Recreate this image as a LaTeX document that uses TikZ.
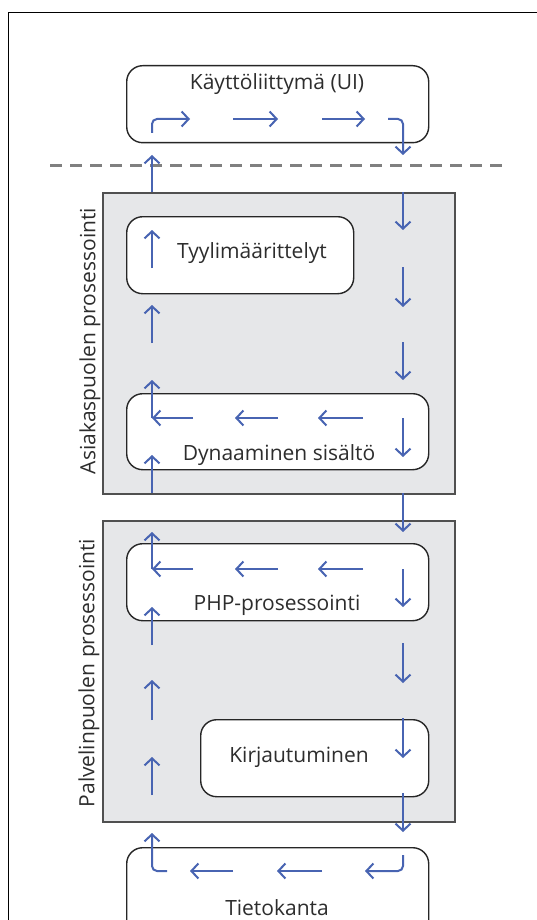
\documentclass[tikz,border=0pt]{standalone}
\usepackage{fontspec}
\setmainfont{Open Sans}
\usetikzlibrary{arrows.meta}
\definecolor{flowblue}{RGB}{72,100,178}
\definecolor{zonefill}{RGB}{230,231,233}
\definecolor{zoneline}{RGB}{80,80,80}
\definecolor{textgray}{RGB}{45,45,45}
\tikzset{
  frame/.style={draw=black, line width=1.5pt},
  zone/.style={draw=zoneline, fill=zonefill, line width=2pt, anchor=north west, inner sep=0pt},
  stage/.style={draw=black!85, fill=white, line width=1.4pt, rounded corners=16pt, anchor=north west, inner sep=0pt},
  lbl/.style={text=textgray, font=\fontsize{21}{23}\selectfont, inner sep=0pt},
  sidelbl/.style={lbl, rotate=90},
  flow/.style={draw=flowblue, line width=2pt, -{Straight Barb[length=7pt, width=15pt, line width=2pt]}},
  turnflow/.style={flow, rounded corners=5pt},
  divider/.style={draw=black!50, line width=3pt, dash pattern=on 12pt off 8pt}
}
\begin{document}
\begin{tikzpicture}[x=1pt, y=-1pt]
  \clip (0,0) rectangle (537,920);
  \fill[white] (0,0) rectangle (537,920);
  \draw[frame] (8.5,12.5) rectangle (560,940);

  % client / server zones
  \node[zone, minimum width=352pt, minimum height=301pt] (client) at (102,192) {};
  \node[zone, minimum width=352pt, minimum height=301pt] (server) at (102,520) {};
  \node[sidelbl] (clientlbl) at (90,341) {Asiakaspuolen prosessointi};
  \node[sidelbl] (serverlbl) at (89,673) {Palvelinpuolen prosessointi};

  % client/server divider
  \draw[divider] (50,166) -- (504,166);

  % stages
  \node[stage, minimum width=302pt, minimum height=77pt] (ui) at (126,65) {};
  \node[stage, minimum width=227pt, minimum height=77pt] (style) at (126,216) {};
  \node[stage, minimum width=302pt, minimum height=76pt] (dyn) at (126,393) {};
  \node[stage, minimum width=302pt, minimum height=77pt] (php) at (126,543) {};
  \node[stage, minimum width=228pt, minimum height=77pt] (login) at (200,719) {};
  \node[stage, minimum width=302pt, minimum height=90pt] (db) at (126,847) {};

  \node[lbl] (uitext) at (277,84) {Käyttöliittymä (UI)};
  \node[lbl] (styletext) at (252,253) {Tyylimäärittelyt};
  \node[lbl] (dyntext) at (279,455) {Dynaaminen sisältö};
  \node[lbl] (phptext) at (277,605) {PHP-prosessointi};
  \node[lbl] (logintext) at (299,757) {Kirjautuminen};
  \node[lbl] (dbtext) at (277,908) {Tietokanta};

  % request flow through the user interface
  \draw[turnflow] (152,133) |- (190,119);
  \draw[flow] (233,119) -- (278,119);
  \draw[flow] (322,119) -- (365,119);
  \draw[turnflow] (388,119) -| (403,155);

  % downward column (request)
  \draw[flow] (403,192) -- (403,230);
  \draw[flow] (403,267) -- (403,307);
  \draw[flow] (403,342) -- (403,380);
  \draw[flow] (403,418) -- (403,457);
  \draw[flow] (403,493) -- (403,532);
  \draw[flow] (403,569) -- (403,607);
  \draw[flow] (403,643) -- (403,683);
  \draw[flow] (403,718) -- (403,758);
  \draw[flow] (403,793) -- (403,832);

  % database turn
  \draw[turnflow] (403,855) |- (365,871);
  \draw[flow] (322,871) -- (277,871);
  \draw[flow] (233,871) -- (190,871);
  \draw[turnflow] (167,871) -| (152,833);

  % upward column (response)
  \draw[flow] (152,795) -- (152,757);
  \draw[flow] (152,720) -- (152,680);
  \draw[flow] (152,645) -- (152,607);
  \draw[flow] (152,569) -- (152,532);
  \draw[flow] (193,569) -- (152,569);
  \draw[flow] (278,569) -- (235,569);
  \draw[flow] (363,569) -- (318,569);
  \draw[flow] (152,493) -- (152,455);
  \draw[flow] (152,418) -- (152,380);
  \draw[flow] (193,418) -- (152,418);
  \draw[flow] (278,418) -- (235,418);
  \draw[flow] (363,418) -- (318,418);
  \draw[flow] (152,343) -- (152,305);
  \draw[flow] (152,268) -- (152,230);
  \draw[flow] (152,192) -- (152,155);
\end{tikzpicture}
\end{document}
